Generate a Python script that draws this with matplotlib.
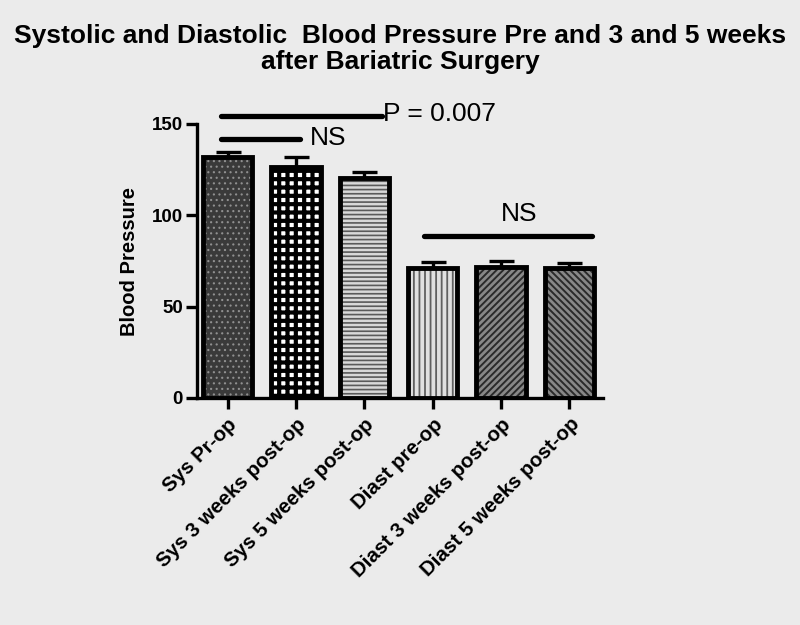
import matplotlib
matplotlib.use("Agg")
import matplotlib.pyplot as plt

categories = ["Sys Pr-op", "Sys 3 weeks post-op", "Sys 5 weeks post-op",
              "Diast pre-op", "Diast 3 weeks post-op", "Diast 5 weeks post-op"]
means = [131.9, 126.4, 120.4, 71.2, 71.7, 71.2]
sems = [2.7, 5.5, 3.3, 3.2, 3.3, 2.7]
yticks = [0, 50, 100, 150]

# significance bars: (x_start, x_end, y, label, label_x, label_y, ha)
sig_lines = [
    (-0.095, 2.26, 154.4, "P = 0.007", 2.27, 155.6, "left"),
    (-0.095, 1.06, 141.8, "NS", 1.21, 142.3, "left"),
    (2.87, 5.33, 88.7, "NS", 4.27, 100.5, "center"),
]

faces = ["#3a3a3a", "#ffffff", "#d8d8d8", "#e0e0e0", "#888888", "#888888"]
hatch_cols = ["#909090", "#000000", "#5a5a5a", "#606060", "#2a2a2a", "#2a2a2a"]
hatches = ["...", "++", "----", "|||", "/////", "\\\\\\\\\\"]
hatch_lws = [0.8, 3.0, 1.2, 1.3, 1.4, 1.4]

bg = "#ebebeb"
plt.rcParams["font.family"] = ["Liberation Sans", "DejaVu Sans"]

fig = plt.figure(figsize=(8, 6.25), dpi=100, facecolor=bg)
ax = fig.add_axes([197 / 800, 1 - 398 / 625, 406 / 800, 274 / 625])
ax.set_facecolor(bg)

x = list(range(len(categories)))
for i in x:
    plt.rcParams["hatch.linewidth"] = hatch_lws[i]
    bars = ax.bar(i, means[i], width=0.72, color=faces[i], edgecolor=hatch_cols[i],
                  hatch=hatches[i], linewidth=0, zorder=2)
    for p in bars:
        if hasattr(p, "set_hatch_linewidth"):
            p.set_hatch_linewidth(hatch_lws[i])
ax.bar(x, means, width=0.72, fill=False, edgecolor="black", linewidth=3.5, zorder=3)
ax.errorbar(x, means, yerr=[[0] * len(sems), sems], fmt="none", ecolor="black",
            elinewidth=2.4, capsize=9, capthick=2.4, zorder=1)

for x0, x1, y, lab, lx, ly, ha in sig_lines:
    ax.plot([x0, x1], [y, y], color="black", lw=3.8, solid_capstyle="round",
            clip_on=False, zorder=4)
    ax.text(lx, ly, lab, fontsize=19, ha=ha, va="center", clip_on=False)

ax.set_xlim(-0.446, 5.49)
ax.set_ylim(0, 150)
ax.set_yticks(yticks)
ax.set_yticklabels([str(t) for t in yticks], fontsize=13.5, fontweight="bold")
ax.set_xticks(x)
ax.set_xticklabels(categories, rotation=45, ha="right", rotation_mode="anchor",
                   fontsize=14.8, fontweight="bold")
ax.tick_params(axis="both", width=2.4, length=8, direction="out")
ax.tick_params(axis="y", pad=2)
ax.tick_params(axis="x", pad=4)
for s in ["top", "right"]:
    ax.spines[s].set_visible(False)
for s in ["left", "bottom"]:
    ax.spines[s].set_linewidth(2.4)
ax.set_ylabel("Blood Pressure", fontsize=14.5, fontweight="bold", labelpad=9)

fig.suptitle("Systolic and Diastolic  Blood Pressure Pre and 3 and 5 weeks\nafter Bariatric Surgery",
             fontsize=19, fontweight="bold", y=0.962, linespacing=1.1)

fig.savefig("out.png", dpi=100, facecolor=bg)
